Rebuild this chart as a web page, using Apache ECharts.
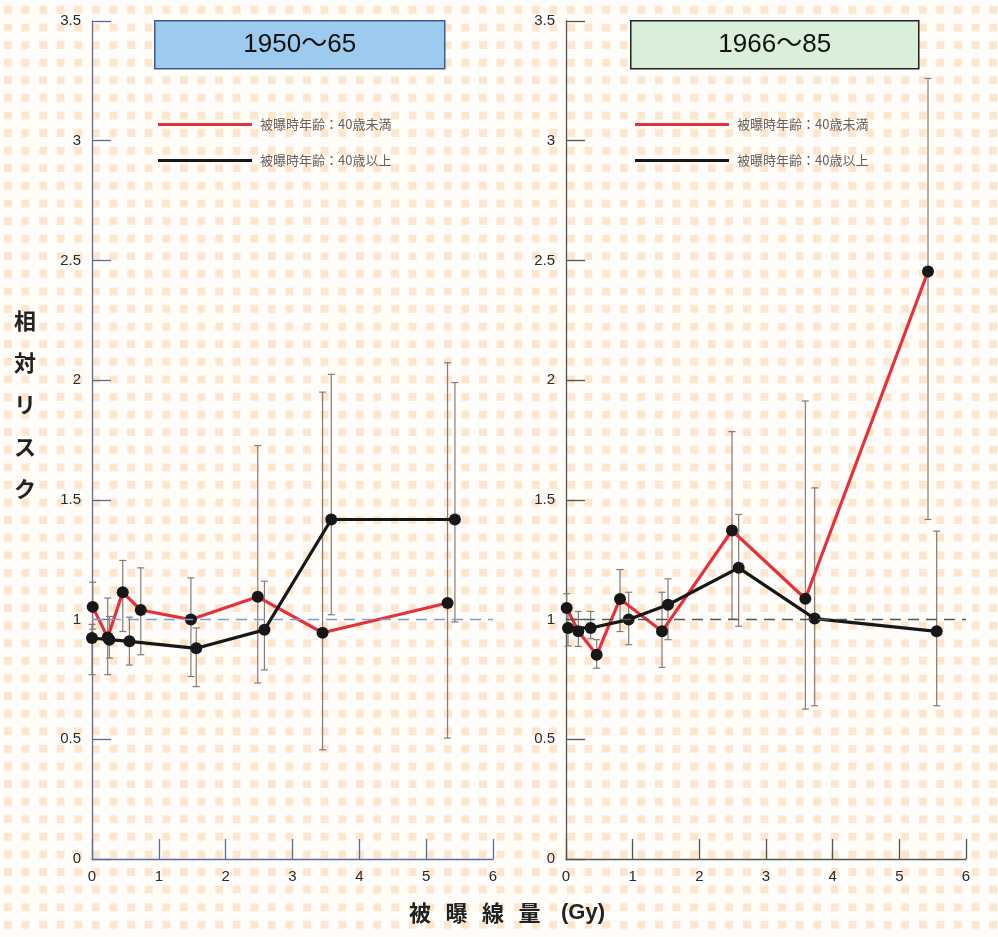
<!DOCTYPE html>
<html><head><meta charset="utf-8">
<script src="https://cdn.jsdelivr.net/npm/echarts@6/dist/echarts.min.js"></script>
<style>
html,body{margin:0;padding:0;background:#fff;}
#c{width:998px;height:937px;background-color:#fffdfa;
background-image:linear-gradient(90deg, rgba(255,255,255,0) 8px, #fffdfa 8px), linear-gradient(#fce7cd 8px, #fffdfa 8px);
background-size:17.6px 17.6px;background-position:4px 6px;}
</style></head><body><div id="c"></div>
<script>
// ---- data ----
const panelTitles = ['1950～65', '1966～85'];
const seriesNames = ['被曝時年齢：40歳未満', '被曝時年齢：40歳以上'];
const yTitleChars = ['相', '対', 'リ', 'ス', 'ク'];
const xTitleParts = ['被', '曝', '線', '量', '(Gy)'];
const xTicks = [0, 1, 2, 3, 4, 5, 6];
const yTicks = [0, 0.5, 1, 1.5, 2, 2.5, 3, 3.5];

// Panel 1 (1950~65), under 40 at exposure
const p1YoungDose = [0.01, 0.235, 0.46, 0.73, 1.48, 2.48, 3.45, 5.32];
const p1YoungRR   = [1.053, 0.925, 1.114, 1.04, 1.0, 1.095, 0.945, 1.069];
const p1YoungLo   = [0.96, 0.77, 0.95, 0.853, 0.762, 0.735, 0.456, 0.505];
const p1YoungHi   = [1.156, 1.09, 1.247, 1.216, 1.174, 1.727, 1.95, 2.073];
// Panel 1, 40 and over
const p1OldDose = [0.0, 0.26, 0.56, 1.56, 2.58, 3.58, 5.43];
const p1OldRR   = [0.923, 0.916, 0.909, 0.88, 0.957, 1.418, 1.418];
const p1OldLo   = [0.77, 0.839, 0.81, 0.72, 0.79, 1.02, 0.99];
const p1OldHi   = [0.98, 1.013, 1.01, 0.965, 1.16, 2.024, 1.99];

// Panel 2 (1966~85), under 40
const p2YoungDose = [0.01, 0.185, 0.46, 0.81, 1.44, 2.49, 3.59, 5.43];
const p2YoungRR   = [1.048, 0.951, 0.853, 1.086, 0.951, 1.372, 1.087, 2.454];
const p2YoungLo   = [0.95, 0.888, 0.797, 0.95, 0.80, 1.002, 0.626, 1.418];
const p2YoungHi   = [1.108, 1.034, 0.916, 1.209, 1.114, 1.785, 1.913, 3.26];
// Panel 2, 40 and over
const p2OldDose = [0.03, 0.37, 0.94, 1.53, 2.59, 3.73, 5.56];
const p2OldRR   = [0.965, 0.965, 1.0, 1.062, 1.216, 1.004, 0.951];
const p2OldLo   = [0.89, 0.92, 0.895, 0.916, 0.972, 0.64, 0.64];
const p2OldHi   = [1.05, 1.034, 1.114, 1.17, 1.439, 1.55, 1.369];

// ---- styles ----
const RED = '#e6313b', BLACK = '#171717', ERR = '#857b73';
const FONT = '"Liberation Sans", "Noto Sans CJK JP", sans-serif';
const JFONT = '"Noto Sans CJK JP", sans-serif';
const axisColors = ['#5a6b9e', '#4d554d'];
const refColors = ['#7e9ccf', '#4d5a4d'];

function errSeries(xs, lo, hi, idx) {
  return {
    type: 'custom', xAxisIndex: idx, yAxisIndex: idx, silent: true, animation: false, z: 1,
    encode: { x: 0, y: [1, 2] },
    data: xs.map((x, i) => [x, lo[i], hi[i]]),
    renderItem: function (params, api) {
      const t = api.coord([api.value(0), api.value(2)]);
      const b = api.coord([api.value(0), api.value(1)]);
      const w = 3.5, st = { stroke: ERR, lineWidth: 1.2 };
      return { type: 'group', children: [
        { type: 'line', shape: { x1: t[0], y1: t[1], x2: b[0], y2: b[1] }, style: st },
        { type: 'line', shape: { x1: t[0] - w, y1: t[1], x2: t[0] + w, y2: t[1] }, style: st },
        { type: 'line', shape: { x1: b[0] - w, y1: b[1], x2: b[0] + w, y2: b[1] }, style: st }
      ]};
    }
  };
}
function lineSeries(name, xs, ys, idx, color, z, ref) {
  const s = {
    type: 'line', name: name, xAxisIndex: idx, yAxisIndex: idx, animation: false, z: z,
    data: xs.map((x, i) => [x, ys[i]]),
    symbol: 'circle', symbolSize: 12, showSymbol: true,
    lineStyle: { color: color, width: 3.2 },
    itemStyle: { color: BLACK }
  };
  if (ref) {
    s.markLine = { silent: true, symbol: 'none', label: { show: false }, animation: false,
      lineStyle: { color: refColors[idx], type: [11, 7], width: 1.4 },
      data: [{ yAxis: 1 }] };
  }
  return s;
}
function xAxis(idx) {
  return { type: 'value', gridIndex: idx, min: xTicks[0], max: xTicks[xTicks.length - 1], interval: 1,
    axisLine: { show: true, lineStyle: { color: axisColors[idx], width: 1.3 } },
    axisTick: { show: true, inside: true, length: 20, lineStyle: { color: axisColors[idx], width: 1.3 } },
    splitLine: { show: false },
    axisLabel: { color: '#2a2a2a', fontSize: 15, margin: 10, fontFamily: FONT } };
}
function yAxis(idx) {
  return { type: 'value', gridIndex: idx, min: yTicks[0], max: yTicks[yTicks.length - 1], interval: 0.5,
    axisLine: { show: true, lineStyle: { color: axisColors[idx], width: 1.3 } },
    axisTick: { show: true, inside: true, length: 19, lineStyle: { color: axisColors[idx], width: 1.3 } },
    splitLine: { show: false },
    axisLabel: { color: '#2a2a2a', fontSize: 15, margin: 11, fontFamily: FONT } };
}
function legend(left) {
  return { orient: 'vertical', left: left, top: 113, itemWidth: 94, itemHeight: 3, itemGap: 23,
    selectedMode: false,
    textStyle: { color: '#6b5d55', fontSize: 13, fontFamily: JFONT, padding: [0, 0, 0, 3] },
    data: [
      { name: seriesNames[0], icon: 'rect', itemStyle: { color: RED } },
      { name: seriesNames[1], icon: 'rect', itemStyle: { color: BLACK } }
    ] };
}
function titleBox(x, w, fill, stroke, text) {
  return { type: 'group', left: x, top: 20, children: [
    { type: 'rect', shape: { x: 0, y: 0, width: w, height: 48 }, style: { fill: fill, stroke: stroke, lineWidth: 1.5 } },
    { type: 'text', style: { x: w / 2, y: 24, text: text, align: 'center', verticalAlign: 'middle',
      fontSize: 26, fontFamily: FONT, fill: '#111' } }
  ]};
}
const graphics = [
  titleBox(154, 290, '#9dcbee', '#3b5b8c', panelTitles[0]),
  titleBox(630, 288, '#d9efda', '#222222', panelTitles[1])
];
yTitleChars.forEach((ch, i) => graphics.push({ type: 'text', left: 14, top: 310 + i * 42,
  style: { text: ch, fontSize: 22, fontFamily: JFONT, fill: '#222', fontWeight: 'bold' } }));
xTitleParts.forEach((ch, i) => graphics.push({ type: 'text', left: 409 + i * 36.5 + (i === 4 ? 6 : 0), top: 902,
  style: { text: ch, fontSize: 22, fontFamily: i === 4 ? FONT : JFONT, fill: '#222', fontWeight: 'bold' } }));

const chart = echarts.init(document.getElementById('c'), null, { renderer: 'canvas' });
chart.setOption({
  backgroundColor: 'transparent',
  animation: false,
  grid: [
    { left: 92, top: 21, width: 401, height: 838 },
    { left: 566, top: 21, width: 400, height: 838 }
  ],
  xAxis: [xAxis(0), xAxis(1)],
  yAxis: [yAxis(0), yAxis(1)],
  legend: [legend(153), legend(630)],
  series: [
    errSeries(p1YoungDose, p1YoungLo, p1YoungHi, 0),
    errSeries(p1OldDose, p1OldLo, p1OldHi, 0),
    errSeries(p2YoungDose, p2YoungLo, p2YoungHi, 1),
    errSeries(p2OldDose, p2OldLo, p2OldHi, 1),
    lineSeries(seriesNames[0], p1YoungDose, p1YoungRR, 0, RED, 3, true),
    lineSeries(seriesNames[1], p1OldDose, p1OldRR, 0, BLACK, 4, false),
    lineSeries(seriesNames[0], p2YoungDose, p2YoungRR, 1, RED, 3, true),
    lineSeries(seriesNames[1], p2OldDose, p2OldRR, 1, BLACK, 4, false)
  ],
  graphic: graphics
});
</script></body></html>
